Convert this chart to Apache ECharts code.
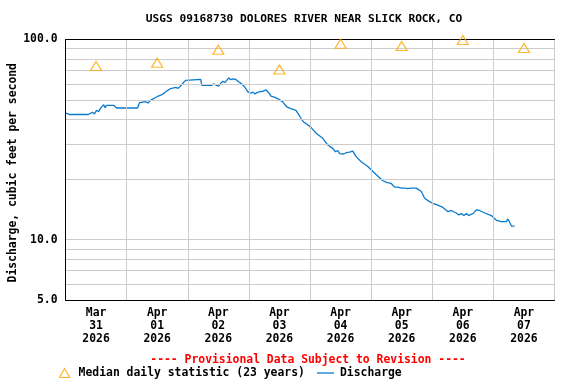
<!DOCTYPE html>
<html><head><meta charset="utf-8">
<script src="https://cdn.jsdelivr.net/npm/echarts@6/dist/echarts.min.js"></script>
<style>html,body{margin:0;padding:0;background:#fff}#c{width:576px;height:384px}</style>
</head><body><div id="c"></div>
<script>
const titleText = 'USGS 09168730 DOLORES RIVER NEAR SLICK ROCK, CO';
const noteText = '---- Provisional Data Subject to Revision ----';
const yAxisTitle = 'Discharge, cubic feet per second';
const dayLabels = ['Mar\n31\n2026','Apr\n01\n2026','Apr\n02\n2026','Apr\n03\n2026','Apr\n04\n2026','Apr\n05\n2026','Apr\n06\n2026','Apr\n07\n2026'];
const medianName = 'Median daily statistic (23 years)';
const dischargeName = 'Discharge';
// hours since Mar 31 00:00
const medianHours = [12,36,60,84,108,132,156,180];
const medianValues = [73.7,76.6,88.9,70.8,95.2,92.8,99.4,90.7];
const dischargeHours = [0,1.6,9.0,9.8,10.6,11.4,12.2,13.0,13.8,14.4,15.0,15.6,16.1,17.7,18.9,19.4,20.1,28.3,29.1,31.5,32.4,33.4,34.4,35.4,36.4,37.4,38.3,39.3,40.3,41.3,43.3,44.2,45.2,46.4,47.2,53.1,53.5,57.4,58.2,59.0,59.6,60.2,61.0,61.8,62.6,63.3,64.1,64.9,65.7,66.9,67.9,68.9,69.6,70.4,71.6,72.8,73.6,74.4,75.2,75.9,76.7,77.5,78.7,79.9,80.7,82.0,83.3,85.3,86.2,87.0,87.7,88.5,89.2,90.5,91.7,92.5,93.6,94.4,96.4,98.4,101.0,103.0,104.9,106.0,106.9,107.6,108.2,109.2,110.2,111.5,112.8,114.1,116.1,118.7,120.7,122.6,124.6,126.3,127.9,129.2,130.5,131.8,132.5,133.1,133.8,134.4,135.1,135.7,137.7,139.7,141.0,142.9,144.3,146.2,148.2,150.2,151.5,153.4,154.4,155.4,156.4,157.4,158.4,159.2,160.0,161.3,162.6,164.6,167.2,169.2,171.1,173.1,173.6,174.3,175.1,176.3];
const dischargeValues = [43.0,42.2,42.2,42.8,43.3,42.5,44.3,43.6,45.4,44.6,47.2,45.6,46.9,46.9,46.9,46.4,45.5,45.5,48.4,48.9,48.2,49.7,50.5,51.3,52.2,52.7,53.5,54.7,55.9,56.9,57.7,57.0,58.6,61.1,62.5,63.2,59.0,59.0,60.0,59.4,60.6,58.4,60.6,61.8,61.0,62.5,64.3,63.0,63.5,63.2,61.5,60.4,59.2,57.9,54.7,53.9,54.6,53.5,54.3,54.5,55.0,55.1,56.1,53.9,52.2,51.5,50.7,48.8,47.2,46.0,46.4,45.2,45.4,44.3,41.9,40.3,38.6,38.1,36.4,34.0,32.1,29.7,28.6,27.5,27.9,26.9,27.4,26.8,27.2,27.4,27.7,26.0,24.5,23.2,21.9,20.8,19.7,19.3,19.1,18.3,18.3,18.1,18.4,18.1,18.3,18.0,18.3,18.1,18.1,17.4,16.1,15.5,15.2,14.9,14.5,13.8,14.0,13.6,13.3,13.5,13.2,13.5,13.2,13.4,13.5,14.1,14.0,13.6,13.2,12.5,12.3,12.3,12.7,12.3,11.7,11.7];
const yGridValues = [5,6,7,8,9,10,20,30,40,50,60,70,80,90,100];
const yLabelValues = [5,10,100];

const FONT = 'DejaVu Sans Mono';
const FS = 11.4;
const frameLine = {show: true, lineStyle: {color: '#000', width: 1}};
const chart = echarts.init(document.getElementById('c'));
chart.setOption({
  animation: false,
  backgroundColor: '#ffffff',
  title: [
    {text: titleText, left: 304, top: 14, textAlign: 'center', padding: 0,
     textStyle: {fontFamily: FONT, fontSize: 11.2, fontWeight: 'bold', color: '#000'}},
    {text: noteText, left: 308, top: 354.5, textAlign: 'center', padding: 0,
     textStyle: {fontFamily: FONT, fontSize: FS, fontWeight: 'bold', color: '#ff0000'}}
  ],
  legend: [
    {data: [{name: medianName, icon: 'path://M5,0L10,9L0,9Z',
             itemStyle: {color: 'rgba(0,0,0,0)', borderColor: '#FFA500', borderWidth: 1.2}}],
     left: 59, top: 367.5, itemWidth: 10, itemHeight: 9, padding: 0,
     textStyle: {fontFamily: FONT, fontSize: FS, fontWeight: 'bold', color: '#000', padding: [0,0,0,4]}},
    {data: [{name: dischargeName, icon: 'rect', itemStyle: {color: '#0a7bcc'}}],
     left: 317, top: 367.5, itemWidth: 17, itemHeight: 1.3, padding: 0,
     textStyle: {fontFamily: FONT, fontSize: FS, fontWeight: 'bold', color: '#000', padding: [0,0,0,1]}}
  ],
  grid: {left: 65.5, right: 21.5, top: 39.5, bottom: 84, outerBoundsMode: 'none', containLabel: false,
         show: false},
  xAxis: [
    {type: 'value', min: 0, max: 192, interval: 24, position: 'bottom',
     axisLine: frameLine, axisTick: {show: false}, axisLabel: {show: false},
     splitLine: {show: true, lineStyle: {color: '#cccccc', width: 1}}, z: 5},
    {type: 'category', data: dayLabels, boundaryGap: true, position: 'bottom',
     axisLine: {show: false}, axisTick: {show: false}, splitLine: {show: false},
     axisLabel: {fontFamily: FONT, fontSize: FS, fontWeight: 'bold', color: '#000', lineHeight: 13, margin: 7, interval: 0}},
    {type: 'value', min: 0, max: 192, position: 'top',
     axisLine: frameLine, axisTick: {show: false}, axisLabel: {show: false}, splitLine: {show: false}, z: 5}
  ],
  yAxis: [
    {type: 'log', logBase: 10, min: 5, max: 100, position: 'left',
     name: yAxisTitle, nameLocation: 'middle', nameGap: 47, nameMoveOverlap: false,
     nameTextStyle: {fontFamily: FONT, fontSize: FS, fontWeight: 'bold', color: '#000', padding: [0, 6, 0, 0]},
     axisLine: frameLine,
     axisTick: {show: false, customValues: yGridValues},
     axisLabel: {customValues: yLabelValues, margin: 8, formatter: v => Number(v).toFixed(1),
       fontFamily: FONT, fontSize: FS, fontWeight: 'bold', color: '#000'},
     splitLine: {show: true, lineStyle: {color: '#cccccc', width: 1}}, z: 5},
    {type: 'log', logBase: 10, min: 5, max: 100, position: 'right',
     axisLine: frameLine, axisTick: {show: false}, axisLabel: {show: false}, splitLine: {show: false}, z: 5}
  ],
  series: [
    {name: dischargeName, type: 'line', xAxisIndex: 0, yAxisIndex: 0, showSymbol: false, symbol: 'none',
     data: dischargeHours.map((h, i) => [h, dischargeValues[i]]),
     lineStyle: {color: '#0a7bcc', width: 1.3}, itemStyle: {color: '#0a7bcc'}, z: 3},
    {name: medianName, type: 'scatter', xAxisIndex: 0, yAxisIndex: 0, symbol: 'triangle', symbolSize: [11, 9], clip: false,
     data: medianHours.map((h, i) => [h, medianValues[i]]),
     itemStyle: {color: 'rgba(0,0,0,0)', borderColor: '#FFA500', borderWidth: 1.2}, z: 6}
  ]
});
</script></body></html>
